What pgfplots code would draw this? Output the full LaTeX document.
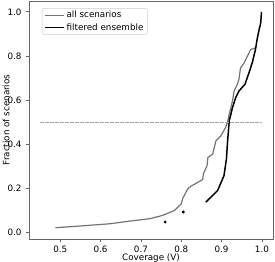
\documentclass[border=0pt]{standalone}
\usepackage{fontspec}
\setmainfont{DejaVu Sans}
\usepackage{pgfplots}
\pgfplotsset{compat=1.18}
\begin{document}
\begin{tikzpicture}
\begin{axis}[
  at={(0,0)}, anchor=south west,
  scale only axis, width=244bp, height=238bp,
  xmin=0.4225, xmax=1.0275, ymin=-0.029, ymax=1.049,
  xtick={0.5,0.6,0.7,0.8,0.9,1.0},
  ytick={0,0.2,0.4,0.6,0.8,1.0},
  xtick pos=bottom, ytick pos=left,
  tick align=outside, major tick length=3bp,
  axis line style={black!60, line width=0.7bp},
  every tick/.style={black!60, line width=0.7bp},
  /pgf/number format/assume math mode=true,
  /pgf/number format/.cd, fixed, fixed zerofill, precision=1, /pgfplots/.cd,
  tick label style={font=\fontsize{8.8}{10}\selectfont},
  yticklabel style={xshift=-1bp},
  xticklabel style={yshift=-0.5bp},
  xlabel={Coverage (V)}, ylabel={Fraction of scenarios},
  label style={font=\fontsize{8.8}{10}\selectfont},
  xlabel style={at={(axis description cs:0.5,-0.08)}, anchor=center},
  ylabel style={at={(axis description cs:-0.094,0.5)}, anchor=center},
  legend style={at={(axis description cs:0.053,0.97)}, anchor=north west,
    draw=black!20, rounded corners=2bp, font=\fontsize{8.8}{10}\selectfont,
    inner xsep=2bp, inner ysep=1bp, row sep=0bp},
  legend cell align=left,
  legend image code/.code={\draw[#1] (0bp,0bp) -- (19bp,0bp);},
]
\addplot[color=black!55, line width=1.2bp] coordinates {
(0.488,0.022) (0.55,0.03) (0.623,0.04) (0.672,0.052) (0.722,0.063) (0.754,0.078)
(0.783,0.10) (0.80,0.13) (0.804,0.156) (0.816,0.198) (0.824,0.21) (0.853,0.24)
(0.855,0.266) (0.864,0.303) (0.866,0.34) (0.878,0.356) (0.886,0.416) (0.898,0.438)
(0.91,0.476) (0.915,0.503) (0.919,0.536) (0.927,0.596) (0.931,0.641) (0.939,0.671)
(0.943,0.694) (0.947,0.746) (0.956,0.769) (0.968,0.814) (0.972,0.829) (0.983,0.836)
};
\addlegendentry{all scenarios}
\addplot[color=black, line width=1.5bp] coordinates {
(0.861,0.138) (0.89,0.19) (0.906,0.258) (0.912,0.333) (0.915,0.416) (0.919,0.506)
(0.927,0.566) (0.935,0.611) (0.943,0.641) (0.958,0.672) (0.968,0.724) (0.976,0.769)
(0.984,0.829) (0.988,0.874) (0.993,0.919) (0.997,0.949) (0.999,1.0)
};
\addlegendentry{filtered ensemble}
\addplot[only marks, mark=*, mark size=1.3bp, black, forget plot] coordinates {
(0.76,0.048) (0.805,0.093)
};
\addplot[color=black!35, line width=0.8bp, dash pattern=on 3.5bp off 1.5bp, forget plot] coordinates {
(0.45,0.5) (1.0,0.5)
};
\end{axis}
\pgfresetboundingbox
\path[use as bounding box] (-29bp,-23bp) rectangle (246bp,239bp);
\end{tikzpicture}
\end{document}
